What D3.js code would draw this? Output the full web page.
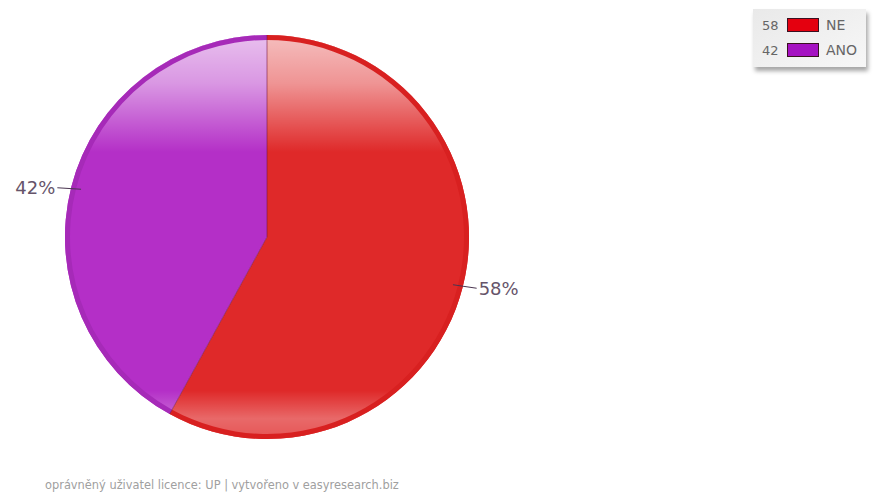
<!DOCTYPE html>
<html>
<head>
<meta charset="utf-8">
<script src="https://cdn.jsdelivr.net/npm/d3@7"></script>
<style>
  body { margin: 0; background: #fff; }
  svg { display: block; font-family: "DejaVu Sans", Verdana, sans-serif; }
</style>
</head>
<body>
<div id="chart"></div>
<script>
const categories = ['NE', 'ANO'];
const values = [58, 42];
const sliceColors = ['#df2929', '#b42fc7'];
const ringColors = ['#d82020', '#a62ab8'];
const swatchColors = ['#e4000f', '#a512c2'];
const footerText = 'oprávněný uživatel licence: UP | vytvořeno v easyresearch.biz';

const width = 873, height = 494;
const cx = 267, cy = 237, r = 202;

const svg = d3.select('#chart').append('svg')
  .attr('width', width)
  .attr('height', height);

const defs = svg.append('defs');

// glossy highlight at top and bottom
const gloss = defs.append('linearGradient')
  .attr('id', 'gloss')
  .attr('x1', 0).attr('y1', 0).attr('x2', 0).attr('y2', 1);
gloss.append('stop').attr('offset', '0').attr('stop-color', '#fff').attr('stop-opacity', 0.7);
gloss.append('stop').attr('offset', '0.12').attr('stop-color', '#fff').attr('stop-opacity', 0.5);
gloss.append('stop').attr('offset', '0.29').attr('stop-color', '#fff').attr('stop-opacity', 0);
gloss.append('stop').attr('offset', '0.88').attr('stop-color', '#fff').attr('stop-opacity', 0);
gloss.append('stop').attr('offset', '0.95').attr('stop-color', '#fff').attr('stop-opacity', 0.3);
gloss.append('stop').attr('offset', '1').attr('stop-color', '#fff').attr('stop-opacity', 0.2);

const shadow = defs.append('filter').attr('id', 'legendShadow')
  .attr('x', '-10%').attr('y', '-10%').attr('width', '130%').attr('height', '140%');
shadow.append('feDropShadow')
  .attr('dx', 2).attr('dy', 4).attr('stdDeviation', 2)
  .attr('flood-color', '#000').attr('flood-opacity', 0.35);

const legendBg = defs.append('linearGradient')
  .attr('id', 'legendBg')
  .attr('x1', 0).attr('y1', 0).attr('x2', 1).attr('y2', 1);
legendBg.append('stop').attr('offset', '0').attr('stop-color', '#e9e9e9');
legendBg.append('stop').attr('offset', '1').attr('stop-color', '#f7f7f7');

const pie = d3.pie().sort(null).value(d => d);
const arcs = pie(values);

const arc = d3.arc().innerRadius(0).outerRadius(r);
const ring = d3.arc().innerRadius(r - 5).outerRadius(r);

const g = svg.append('g').attr('transform', 'translate(' + cx + ',' + cy + ')');

g.selectAll('.slice')
  .data(arcs)
  .enter().append('path')
    .attr('class', 'slice')
    .attr('d', arc)
    .attr('fill', (d, i) => sliceColors[i]);

g.append('circle')
  .attr('r', r)
  .attr('fill', 'url(#gloss)');

g.selectAll('.ring')
  .data(arcs)
  .enter().append('path')
    .attr('class', 'ring')
    .attr('d', ring)
    .attr('fill', (d, i) => ringColors[i]);

// slice separators
g.selectAll('.sep')
  .data(arcs)
  .enter().append('line')
    .attr('class', 'sep')
    .attr('x1', 0).attr('y1', 0)
    .attr('x2', d => r * Math.sin(d.startAngle))
    .attr('y2', d => -r * Math.cos(d.startAngle))
    .attr('stroke', '#7a1840')
    .attr('stroke-opacity', 0.6)
    .attr('stroke-width', 1);

// percentage labels with short leader lines
const total = d3.sum(values);
arcs.forEach((d, i) => {
  const a = (d.startAngle + d.endAngle) / 2;
  const sx = Math.sin(a), sy = -Math.cos(a);
  const right = sx > 0;
  const p1 = [(r - 10) * sx, (r - 10) * sy];
  const p2 = [r * sx + (right ? 14 : -14), r * sy + 1];
  g.append('line')
    .attr('x1', p1[0]).attr('y1', p1[1])
    .attr('x2', p2[0]).attr('y2', p2[1])
    .attr('stroke', '#4a3550')
    .attr('stroke-width', 1);
  g.append('text')
    .attr('x', p2[0] + (right ? 2 : -2))
    .attr('y', p2[1])
    .attr('dy', '0.36em')
    .attr('text-anchor', right ? 'start' : 'end')
    .attr('font-size', 18)
    .attr('fill', '#66546a')
    .text(Math.round(values[i] / total * 100) + '%');
});

// legend
const legend = svg.append('g').attr('transform', 'translate(753,9)');
legend.append('rect')
  .attr('width', 113).attr('height', 58)
  .attr('fill', 'url(#legendBg)')
  .attr('filter', 'url(#legendShadow)');

const rowY = d3.scalePoint().domain(categories).range([16, 41]);

const rows = legend.selectAll('.row')
  .data(categories)
  .enter().append('g')
    .attr('class', 'row')
    .attr('transform', d => 'translate(0,' + rowY(d) + ')');

rows.append('text')
  .attr('x', 9).attr('y', 0).attr('dy', '0.36em')
  .attr('font-size', 13).attr('fill', '#666')
  .text((d, i) => values[i]);

rows.append('rect')
  .attr('x', 34.5).attr('y', -6.5)
  .attr('width', 31).attr('height', 13)
  .attr('fill', (d, i) => swatchColors[i])
  .attr('stroke', '#3a1020').attr('stroke-width', 1);

rows.append('text')
  .attr('x', 73).attr('y', 0).attr('dy', '0.36em')
  .attr('font-size', 14).attr('fill', '#666')
  .text(d => d);

svg.append('text')
  .attr('x', 45).attr('y', 489)
  .attr('font-size', 11.4).attr('fill', '#a0a0a0')
  .text(footerText);
</script>
</body>
</html>
